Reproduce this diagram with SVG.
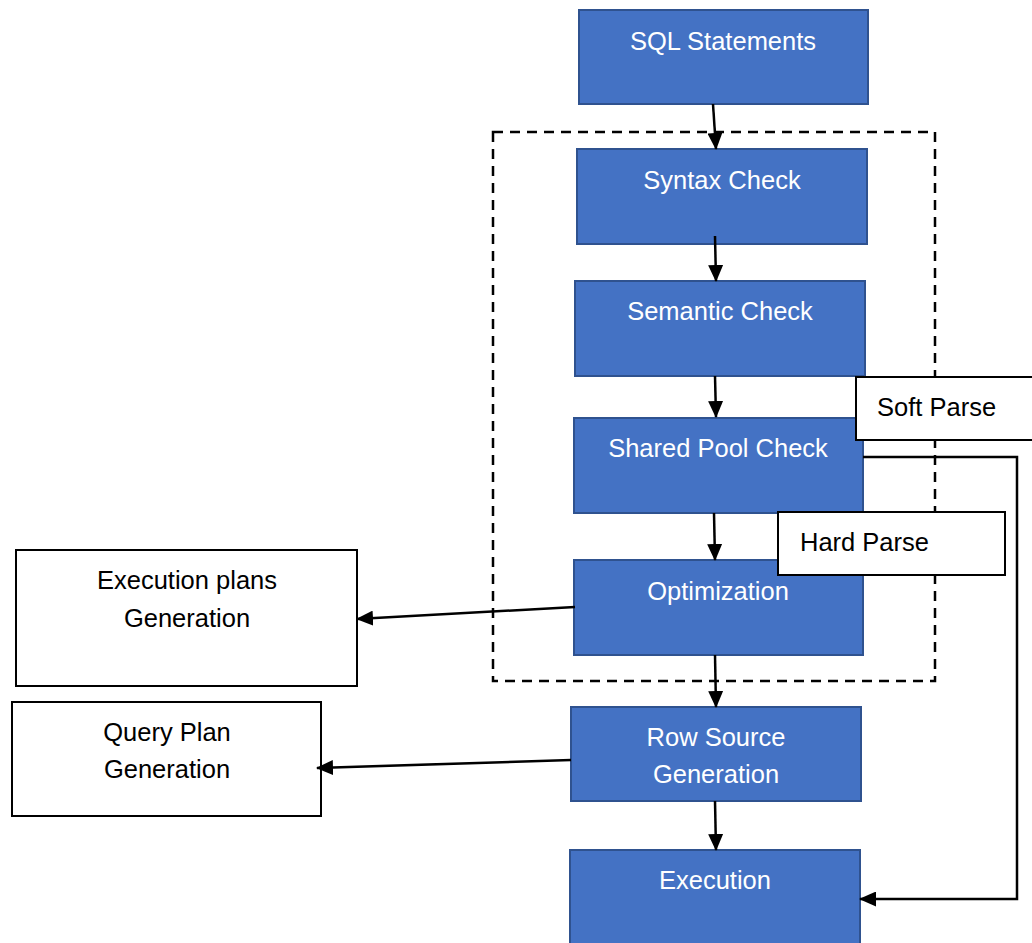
<svg xmlns="http://www.w3.org/2000/svg" width="1032" height="943" viewBox="0 0 1032 943">
<style>
.blue{fill:#4472C4;stroke:#2F528F;stroke-width:2}
.white{fill:#fff;stroke:#000;stroke-width:2}
.wt{fill:#fff;font-family:"Liberation Sans",Arial,sans-serif;font-size:25.5px;text-anchor:middle}
.bt{fill:#000;font-family:"Liberation Sans",Arial,sans-serif;font-size:25.5px}
.c{text-anchor:middle}
.ln{fill:none;stroke:#000;stroke-width:2.5}
</style>
<defs>
<marker id="ah2" markerWidth="17" markerHeight="15" refX="16" refY="7.5" orient="auto" markerUnits="userSpaceOnUse" viewBox="0 0 17 15">
<path d="M0,0 L17,7.5 L0,15 z" fill="#000"/>
</marker>
</defs>
<rect id="group-box" x="493" y="132" width="442" height="549" fill="none" stroke="#000" stroke-width="2.5" stroke-dasharray="10,7"/>
<g id="n-sql"><rect class="blue" x="579" y="10" width="289" height="94"/><text class="wt" x="723" y="50">SQL Statements</text></g>
<g id="n-syntax"><rect class="blue" x="577" y="149" width="290" height="95"/><text class="wt" x="722" y="189">Syntax Check</text></g>
<g id="n-semantic"><rect class="blue" x="575" y="281" width="290" height="95"/><text class="wt" x="720" y="320">Semantic Check</text></g>
<g id="n-shared"><rect class="blue" x="574" y="418" width="289" height="95"/><text class="wt" x="718" y="457">Shared Pool Check</text></g>
<g id="n-opt"><rect class="blue" x="574" y="560" width="289" height="95"/><text class="wt" x="718" y="600">Optimization</text></g>
<g id="n-rowsource"><rect class="blue" x="571" y="707" width="290" height="94"/><text class="wt" x="716" y="746">Row Source</text><text class="wt" x="716" y="783">Generation</text></g>
<g id="n-exec"><rect class="blue" x="570" y="850" width="290" height="100"/><text class="wt" x="715" y="889">Execution</text></g>
<g id="n-soft"><rect class="white" x="856" y="377" width="184" height="63"/><text class="bt" x="877" y="416">Soft Parse</text></g>
<g id="n-hard"><rect class="white" x="778" y="512" width="227" height="63"/><text class="bt" x="800" y="551">Hard Parse</text></g>
<g id="n-execplans"><rect class="white" x="16" y="550" width="341" height="136"/><text class="bt c" x="187" y="589">Execution plans</text><text class="bt c" x="187" y="627">Generation</text></g>
<g id="n-queryplan"><rect class="white" x="12" y="702" width="309" height="114"/><text class="bt c" x="167" y="741">Query Plan</text><text class="bt c" x="167" y="778">Generation</text></g>
<g id="connectors">
<line class="ln" x1="713" y1="104" x2="716" y2="149" marker-end="url(#ah2)"/>
<line class="ln" x1="715" y1="236" x2="716" y2="281" marker-end="url(#ah2)"/>
<line class="ln" x1="715" y1="376" x2="716" y2="417" marker-end="url(#ah2)"/>
<line class="ln" x1="714" y1="513" x2="715" y2="560" marker-end="url(#ah2)"/>
<line class="ln" x1="715" y1="655" x2="716" y2="707" marker-end="url(#ah2)"/>
<line class="ln" x1="715" y1="801" x2="716" y2="850" marker-end="url(#ah2)"/>
<line class="ln" x1="575" y1="607" x2="357" y2="619" marker-end="url(#ah2)"/>
<line class="ln" x1="571" y1="760" x2="317" y2="768" marker-end="url(#ah2)"/>
<polyline class="ln" points="863,457 1017,457 1017,899 860,899" marker-end="url(#ah2)"/>
</g>
</svg>
